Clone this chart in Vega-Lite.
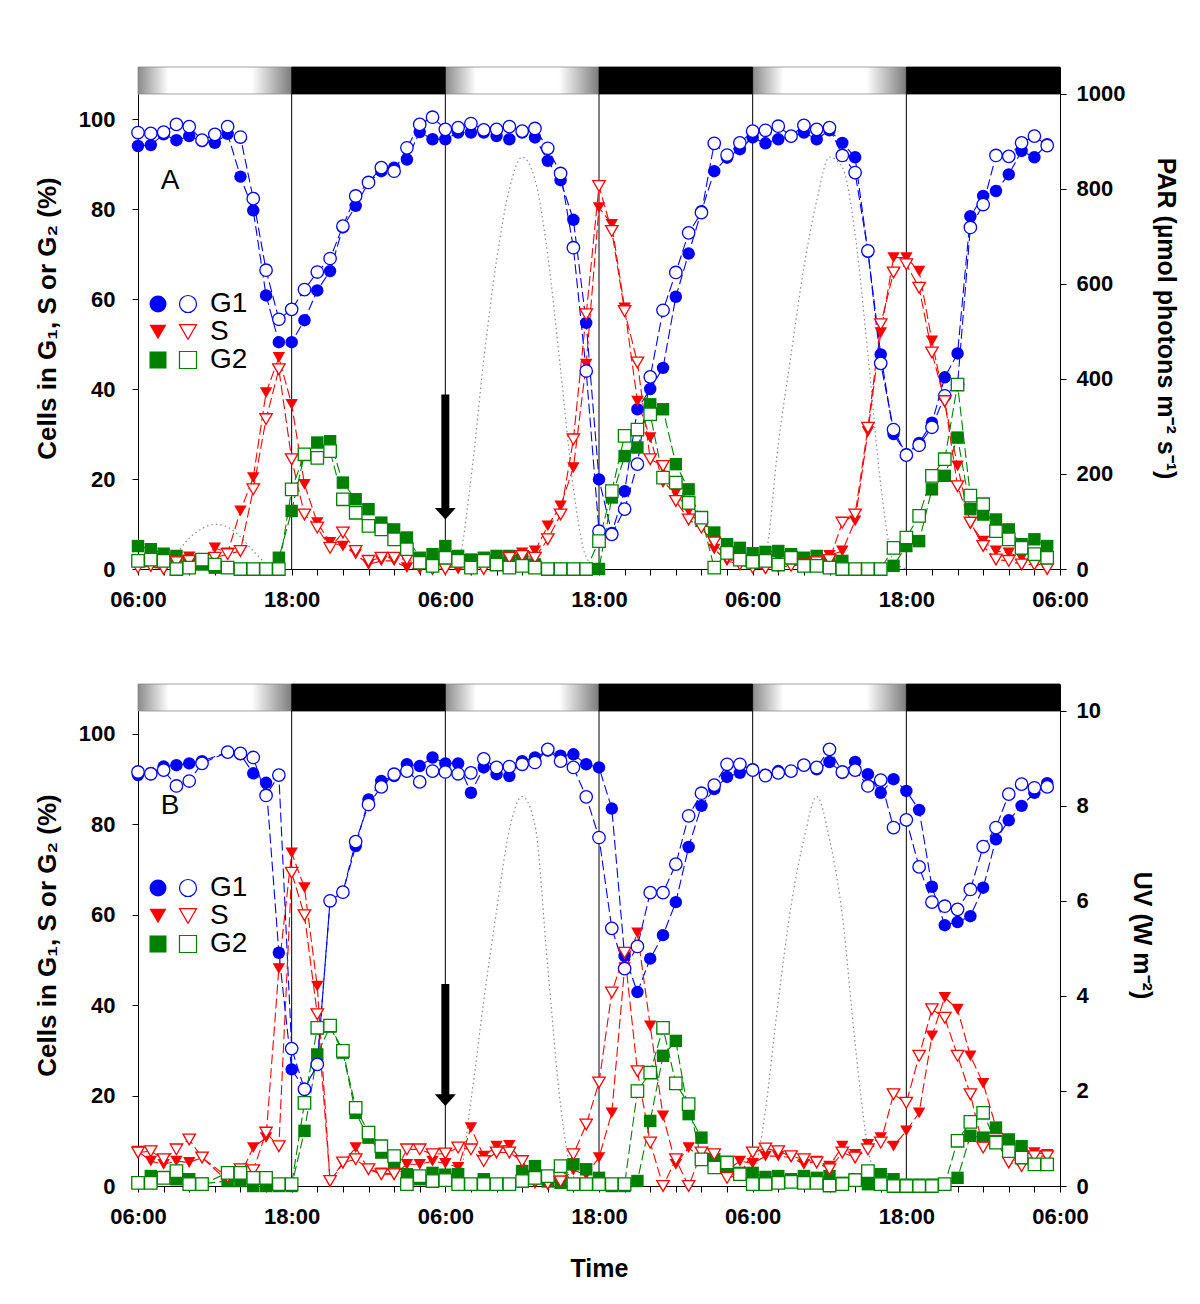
{
"$schema":"https://vega.github.io/schema/vega-lite/v6.json",
"background":"white",
"padding":{"left":34,"top":66,"right":5,"bottom":5},
"config":{"font":"Liberation Sans","view":{"stroke":null},"axis":{"grid":false,"labelFont":"Liberation Sans","labelFontWeight":"bold","labelFontSize":22,"labelColor":"black","titleFont":"Liberation Sans","titleFontWeight":"bold","titleFontSize":26,"titleColor":"black","domain":true,"domainColor":"black","tickColor":"black","tickSize":6},"legend":{"labelFont":"Liberation Sans","labelColor":"black"}},
"datasets":{
"periods":[{"h":0,"h2":12,"kind":"light"},{"h":12,"h2":24,"kind":"dark"},{"h":24,"h2":36,"kind":"light"},{"h":36,"h2":48,"kind":"dark"},{"h":48,"h2":60,"kind":"light"},{"h":60,"h2":72,"kind":"dark"}],
"irr":[
{"p":"A","day":1,"h":1,"val":0},{"p":"A","day":1,"h":2,"val":10},{"p":"A","day":1,"h":3,"val":33},{"p":"A","day":1,"h":4,"val":65},{"p":"A","day":1,"h":5,"val":85},{"p":"A","day":1,"h":6,"val":94},{"p":"A","day":1,"h":7,"val":88},{"p":"A","day":1,"h":8,"val":68},{"p":"A","day":1,"h":9,"val":38},{"p":"A","day":1,"h":10,"val":12},{"p":"A","day":1,"h":11,"val":0},
{"p":"A","day":2,"h":24,"val":0},{"p":"A","day":2,"h":25,"val":17},{"p":"A","day":2,"h":26,"val":190},{"p":"A","day":2,"h":27,"val":440},{"p":"A","day":2,"h":28,"val":650},{"p":"A","day":2,"h":29,"val":800},{"p":"A","day":2,"h":30,"val":867},{"p":"A","day":2,"h":31,"val":820},{"p":"A","day":2,"h":32,"val":660},{"p":"A","day":2,"h":33,"val":420},{"p":"A","day":2,"h":34,"val":170},{"p":"A","day":2,"h":35,"val":25},{"p":"A","day":2,"h":36,"val":0},
{"p":"A","day":3,"h":48,"val":0},{"p":"A","day":3,"h":49,"val":31},{"p":"A","day":3,"h":50,"val":263},{"p":"A","day":3,"h":51,"val":452},{"p":"A","day":3,"h":52,"val":635},{"p":"A","day":3,"h":53,"val":775},{"p":"A","day":3,"h":54,"val":867},{"p":"A","day":3,"h":55,"val":846},{"p":"A","day":3,"h":56,"val":705},{"p":"A","day":3,"h":57,"val":452},{"p":"A","day":3,"h":58,"val":178},{"p":"A","day":3,"h":59,"val":17},{"p":"A","day":3,"h":60,"val":0},
{"p":"B","day":2,"h":24,"val":0},{"p":"B","day":2,"h":25,"val":0.1},{"p":"B","day":2,"h":26,"val":1.8},{"p":"B","day":2,"h":27,"val":3.9},{"p":"B","day":2,"h":28,"val":5.8},{"p":"B","day":2,"h":29,"val":7.5},{"p":"B","day":2,"h":30,"val":8.2},{"p":"B","day":2,"h":31,"val":7.6},{"p":"B","day":2,"h":32,"val":4.6},{"p":"B","day":2,"h":33,"val":1.7},{"p":"B","day":2,"h":34,"val":0.2},{"p":"B","day":2,"h":35,"val":0},
{"p":"B","day":3,"h":48,"val":0},{"p":"B","day":3,"h":49,"val":1.6},{"p":"B","day":3,"h":50,"val":3.9},{"p":"B","day":3,"h":51,"val":5.9},{"p":"B","day":3,"h":52,"val":7.3},{"p":"B","day":3,"h":53,"val":8.2},{"p":"B","day":3,"h":54,"val":7.3},{"p":"B","day":3,"h":55,"val":5.7},{"p":"B","day":3,"h":56,"val":3.0},{"p":"B","day":3,"h":57,"val":0.8},{"p":"B","day":3,"h":58,"val":0}
],
"cells":[
{"p":"A","h":0,"G1":94.0,"G1o":97.0,"S":0.5,"So":0.3,"G2":5.1,"G2o":1.8},
{"p":"A","h":1,"G1":94.2,"G1o":96.8,"S":0.5,"So":0.7,"G2":4.4,"G2o":2.1},
{"p":"A","h":2,"G1":96.6,"G1o":97.1,"S":0,"So":0,"G2":3.4,"G2o":1.8},
{"p":"A","h":3,"G1":95.3,"G1o":98.8,"S":2.5,"So":1.5,"G2":2.9,"G2o":0},
{"p":"A","h":4,"G1":96.2,"G1o":98.3,"S":2.7,"So":1.8,"G2":1.8,"G2o":0.3},
{"p":"A","h":5,"G1":95.1,"G1o":95.3,"S":1.8,"So":2.0,"G2":1.0,"G2o":2.1},
{"p":"A","h":6,"G1":94.7,"G1o":96.6,"S":4.7,"So":2.5,"G2":0.3,"G2o":1.0},
{"p":"A","h":7,"G1":96.7,"G1o":98.3,"S":3.6,"So":3.3,"G2":0.3,"G2o":0.3},
{"p":"A","h":8,"G1":87.2,"G1o":96.0,"S":12.9,"So":4.0,"G2":0,"G2o":0},
{"p":"A","h":9,"G1":79.7,"G1o":82.3,"S":20.3,"So":17.7,"G2":0,"G2o":0},
{"p":"A","h":10,"G1":60.8,"G1o":66.4,"S":39.2,"So":33.3,"G2":0,"G2o":0},
{"p":"A","h":11,"G1":50.4,"G1o":55.5,"S":47.0,"So":44.4,"G2":2.5,"G2o":0},
{"p":"A","h":12,"G1":50.4,"G1o":57.7,"S":36.6,"So":24.4,"G2":12.9,"G2o":17.7},
{"p":"A","h":13,"G1":55.3,"G1o":62.1,"S":18.8,"So":12.1,"G2":25.5,"G2o":25.5},
{"p":"A","h":14,"G1":61.9,"G1o":66.0,"S":10.3,"So":9.2,"G2":28.1,"G2o":24.7},
{"p":"A","h":15,"G1":66.2,"G1o":69.0,"S":5.9,"So":4.7,"G2":28.4,"G2o":26.2},
{"p":"A","h":16,"G1":75.9,"G1o":76.2,"S":5.1,"So":8.1,"G2":19.2,"G2o":15.5},
{"p":"A","h":17,"G1":80.7,"G1o":82.9,"S":3.3,"So":4.0,"G2":15.5,"G2o":12.5},
{"p":"A","h":18,"G1":85.9,"G1o":85.9,"S":1.0,"So":1.8,"G2":13.3,"G2o":9.6},
{"p":"A","h":19,"G1":88.4,"G1o":89.2,"S":1.8,"So":2.5,"G2":10.3,"G2o":8.8},
{"p":"A","h":20,"G1":89.2,"G1o":88.4,"S":1.8,"So":2.5,"G2":8.8,"G2o":6.6},
{"p":"A","h":21,"G1":91.0,"G1o":93.6,"S":0.3,"So":2.1,"G2":7.0,"G2o":4.4},
{"p":"A","h":22,"G1":97.1,"G1o":98.8,"S":0,"So":1.0,"G2":2.5,"G2o":1.4},
{"p":"A","h":23,"G1":95.5,"G1o":100.4,"S":0,"So":0,"G2":3.3,"G2o":0.7},
{"p":"A","h":24,"G1":95.5,"G1o":97.7,"S":0,"So":0,"G2":5.1,"G2o":2.5},
{"p":"A","h":25,"G1":97.0,"G1o":98.1,"S":0,"So":1.0,"G2":2.9,"G2o":1.8},
{"p":"A","h":26,"G1":97.0,"G1o":99.0,"S":0,"So":0,"G2":2.1,"G2o":0.3},
{"p":"A","h":27,"G1":97.0,"G1o":97.6,"S":0,"So":0,"G2":2.5,"G2o":1.8},
{"p":"A","h":28,"G1":96.2,"G1o":97.7,"S":1.5,"So":1.0,"G2":2.9,"G2o":1.0},
{"p":"A","h":29,"G1":95.5,"G1o":98.3,"S":2.5,"So":2.5,"G2":2.9,"G2o":0.3},
{"p":"A","h":30,"G1":97.0,"G1o":97.3,"S":3.6,"So":2.9,"G2":2.1,"G2o":0.7},
{"p":"A","h":31,"G1":95.9,"G1o":97.9,"S":4.0,"So":2.5,"G2":1.0,"G2o":0.3},
{"p":"A","h":32,"G1":90.7,"G1o":93.5,"S":9.6,"So":6.6,"G2":0,"G2o":0},
{"p":"A","h":33,"G1":86.4,"G1o":87.9,"S":14.0,"So":12.1,"G2":0,"G2o":0},
{"p":"A","h":34,"G1":77.6,"G1o":71.4,"S":22.5,"So":28.8,"G2":0,"G2o":0},
{"p":"A","h":35,"G1":54.7,"G1o":44.0,"S":45.5,"So":56.6,"G2":0,"G2o":0},
{"p":"A","h":36,"G1":19.9,"G1o":8.4,"S":80.3,"So":85.1,"G2":0,"G2o":6.2},
{"p":"A","h":37,"G1":8.0,"G1o":7.7,"S":76.6,"So":75.1,"G2":15.9,"G2o":17.3},
{"p":"A","h":38,"G1":17.3,"G1o":13.3,"S":58.0,"So":57.3,"G2":25.1,"G2o":29.6},
{"p":"A","h":39,"G1":35.5,"G1o":23.3,"S":37.3,"So":45.9,"G2":27.0,"G2o":31.0},
{"p":"A","h":40,"G1":40.0,"G1o":42.7,"S":29.2,"So":24.4,"G2":36.6,"G2o":34.4},
{"p":"A","h":41,"G1":44.7,"G1o":57.5,"S":19.2,"So":22.9,"G2":35.5,"G2o":20.3},
{"p":"A","h":42,"G1":60.5,"G1o":65.9,"S":17.0,"So":15.1,"G2":23.3,"G2o":19.2},
{"p":"A","h":43,"G1":70.1,"G1o":74.7,"S":12.9,"So":11.0,"G2":17.7,"G2o":14.7},
{"p":"A","h":44,"G1":79.5,"G1o":79.2,"S":9.6,"So":9.2,"G2":10.7,"G2o":11.4},
{"p":"A","h":45,"G1":88.4,"G1o":94.6,"S":4.4,"So":5.9,"G2":8.1,"G2o":0.3},
{"p":"A","h":46,"G1":91.4,"G1o":92.0,"S":1.8,"So":2.5,"G2":5.5,"G2o":3.6},
{"p":"A","h":47,"G1":93.3,"G1o":94.7,"S":1.0,"So":1.0,"G2":4.7,"G2o":2.1},
{"p":"A","h":48,"G1":95.9,"G1o":97.3,"S":0.3,"So":0.3,"G2":3.5,"G2o":1.6},
{"p":"A","h":49,"G1":94.6,"G1o":97.5,"S":0,"So":0.2,"G2":3.8,"G2o":1.8},
{"p":"A","h":50,"G1":95.5,"G1o":98.4,"S":2.5,"So":0.5,"G2":4.0,"G2o":1.0},
{"p":"A","h":51,"G1":96.2,"G1o":96.2,"S":3.0,"So":0.7,"G2":3.3,"G2o":2.5},
{"p":"A","h":52,"G1":97.0,"G1o":98.6,"S":2.5,"So":1.0,"G2":2.5,"G2o":0.7},
{"p":"A","h":53,"G1":95.5,"G1o":97.7,"S":2.7,"So":1.5,"G2":2.9,"G2o":0.7},
{"p":"A","h":54,"G1":97.5,"G1o":98.1,"S":3.0,"So":2.0,"G2":1.8,"G2o":0.3},
{"p":"A","h":55,"G1":94.7,"G1o":91.9,"S":4.0,"So":10.3,"G2":1.8,"G2o":0},
{"p":"A","h":56,"G1":91.5,"G1o":88.1,"S":10.7,"So":12.1,"G2":0,"G2o":0},
{"p":"A","h":57,"G1":70.5,"G1o":70.7,"S":30.5,"So":31.4,"G2":0,"G2o":0},
{"p":"A","h":58,"G1":47.7,"G1o":45.7,"S":52.5,"So":54.4,"G2":0,"G2o":0},
{"p":"A","h":59,"G1":30.0,"G1o":31.0,"S":69.2,"So":65.9,"G2":0.7,"G2o":4.7},
{"p":"A","h":60,"G1":25.5,"G1o":25.3,"S":69.2,"So":67.7,"G2":5.1,"G2o":7.0},
{"p":"A","h":61,"G1":28.0,"G1o":27.5,"S":66.2,"So":62.5,"G2":6.2,"G2o":11.8},
{"p":"A","h":62,"G1":32.5,"G1o":31.5,"S":50.7,"So":48.1,"G2":17.7,"G2o":20.7},
{"p":"A","h":63,"G1":42.6,"G1o":38.5,"S":37.0,"So":37.3,"G2":20.7,"G2o":24.4},
{"p":"A","h":64,"G1":47.9,"G1o":41.0,"S":22.9,"So":18.4,"G2":29.2,"G2o":41.0},
{"p":"A","h":65,"G1":78.4,"G1o":75.9,"S":10.0,"So":10.3,"G2":13.3,"G2o":16.3},
{"p":"A","h":66,"G1":82.9,"G1o":81.0,"S":6.2,"So":5.1,"G2":12.1,"G2o":14.4},
{"p":"A","h":67,"G1":84.0,"G1o":91.9,"S":4.0,"So":2.1,"G2":11.0,"G2o":8.4},
{"p":"A","h":68,"G1":87.7,"G1o":91.7,"S":3.6,"So":1.8,"G2":8.8,"G2o":6.6},
{"p":"A","h":69,"G1":92.9,"G1o":94.7,"S":2.5,"So":1.0,"G2":5.5,"G2o":4.7},
{"p":"A","h":70,"G1":91.5,"G1o":96.2,"S":1.4,"So":1.0,"G2":6.6,"G2o":3.3},
{"p":"A","h":71,"G1":94.4,"G1o":94.1,"S":0.3,"So":0,"G2":5.1,"G2o":2.5},
{"p":"B","h":0,"G1":90.9,"G1o":91.6,"S":7.7,"So":7.4,"G2":0.7,"G2o":0.7},
{"p":"B","h":1,"G1":91.4,"G1o":91.2,"S":5.5,"So":7.7,"G2":2.2,"G2o":0.7},
{"p":"B","h":2,"G1":92.8,"G1o":92.0,"S":4.8,"So":5.9,"G2":2.0,"G2o":1.8},
{"p":"B","h":3,"G1":93.1,"G1o":88.5,"S":5.5,"So":8.1,"G2":1.5,"G2o":3.3},
{"p":"B","h":4,"G1":93.5,"G1o":89.6,"S":5.2,"So":10.3,"G2":1.5,"G2o":0.4},
{"p":"B","h":5,"G1":94.0,"G1o":93.5,"S":6.3,"So":6.3,"G2":0.5,"G2o":0.4},
{"p":"B","h":7,"G1":96.0,"G1o":96.0,"S":1.1,"So":2.0,"G2":1.1,"G2o":2.9},
{"p":"B","h":8,"G1":95.5,"G1o":95.7,"S":2.5,"So":3.7,"G2":1.1,"G2o":2.9},
{"p":"B","h":9,"G1":91.3,"G1o":94.8,"S":8.5,"So":3.5,"G2":0,"G2o":1.8},
{"p":"B","h":10,"G1":89.2,"G1o":86.4,"S":10.7,"So":11.8,"G2":0,"G2o":1.8},
{"p":"B","h":11,"G1":51.6,"G1o":90.9,"S":48.1,"So":8.8,"G2":0,"G2o":0.4},
{"p":"B","h":12,"G1":25.8,"G1o":30.4,"S":73.7,"So":69.3,"G2":0,"G2o":0.4},
{"p":"B","h":13,"G1":21.5,"G1o":21.4,"S":66.0,"So":59.9,"G2":12.2,"G2o":18.4},
{"p":"B","h":14,"G1":27.0,"G1o":26.9,"S":44.2,"So":38.0,"G2":29.1,"G2o":35.0},
{"p":"B","h":15,"G1":63.1,"G1o":63.1,"S":1.0,"So":1.1,"G2":35.3,"G2o":35.5},
{"p":"B","h":16,"G1":65.0,"G1o":65.0,"S":5.0,"So":5.2,"G2":29.5,"G2o":29.9},
{"p":"B","h":17,"G1":75.2,"G1o":76.2,"S":8.5,"So":5.9,"G2":16.2,"G2o":17.3},
{"p":"B","h":18,"G1":85.5,"G1o":84.4,"S":3.7,"So":3.7,"G2":10.7,"G2o":11.8},
{"p":"B","h":19,"G1":89.6,"G1o":88.3,"S":2.9,"So":2.6,"G2":7.4,"G2o":8.8},
{"p":"B","h":20,"G1":90.7,"G1o":91.1,"S":2.6,"So":2.6,"G2":5.2,"G2o":6.6},
{"p":"B","h":21,"G1":93.3,"G1o":91.8,"S":4.8,"So":8.1,"G2":2.6,"G2o":0.4},
{"p":"B","h":22,"G1":92.9,"G1o":89.4,"S":4.8,"So":8.1,"G2":1.5,"G2o":2.2},
{"p":"B","h":23,"G1":94.8,"G1o":91.8,"S":5.5,"So":7.0,"G2":2.9,"G2o":1.1},
{"p":"B","h":24,"G1":93.5,"G1o":91.6,"S":5.0,"So":7.2,"G2":2.5,"G2o":1.3},
{"p":"B","h":25,"G1":93.5,"G1o":91.2,"S":4.1,"So":8.5,"G2":2.6,"G2o":0.4},
{"p":"B","h":26,"G1":87.0,"G1o":91.4,"S":12.9,"So":8.1,"G2":0.4,"G2o":0.4},
{"p":"B","h":27,"G1":92.6,"G1o":94.5,"S":6.6,"So":5.5,"G2":1.5,"G2o":0.4},
{"p":"B","h":28,"G1":91.1,"G1o":92.6,"S":8.8,"So":7.4,"G2":0.4,"G2o":0.4},
{"p":"B","h":29,"G1":90.7,"G1o":92.8,"S":9.0,"So":7.4,"G2":0.4,"G2o":0.4},
{"p":"B","h":30,"G1":94.0,"G1o":93.3,"S":5.5,"So":5.5,"G2":3.3,"G2o":1.1},
{"p":"B","h":31,"G1":94.8,"G1o":93.7,"S":0.5,"So":1.0,"G2":4.4,"G2o":1.8},
{"p":"B","h":32,"G1":96.3,"G1o":96.6,"S":0.5,"So":0.5,"G2":1.0,"G2o":2.2},
{"p":"B","h":33,"G1":95.2,"G1o":94.0,"S":1.1,"So":1.0,"G2":0.7,"G2o":4.4},
{"p":"B","h":34,"G1":95.5,"G1o":92.6,"S":3.5,"So":7.0,"G2":4.8,"G2o":0.4},
{"p":"B","h":35,"G1":93.3,"G1o":86.1,"S":2.5,"So":13.6,"G2":3.7,"G2o":0.4},
{"p":"B","h":36,"G1":92.6,"G1o":77.1,"S":6.3,"So":22.9,"G2":1.8,"G2o":0.4},
{"p":"B","h":37,"G1":83.5,"G1o":57.0,"S":16.2,"So":42.8,"G2":0,"G2o":0.4},
{"p":"B","h":38,"G1":50.9,"G1o":48.1,"S":48.3,"So":51.6,"G2":0,"G2o":0.4},
{"p":"B","h":39,"G1":42.9,"G1o":53.0,"S":56.0,"So":25.4,"G2":1.1,"G2o":21.0},
{"p":"B","h":40,"G1":50.3,"G1o":64.9,"S":35.4,"So":9.6,"G2":14.4,"G2o":25.1},
{"p":"B","h":41,"G1":55.5,"G1o":64.9,"S":15.5,"So":0,"G2":28.8,"G2o":35.0},
{"p":"B","h":42,"G1":62.8,"G1o":71.2,"S":4.8,"So":5.9,"G2":32.1,"G2o":22.7},
{"p":"B","h":43,"G1":75.0,"G1o":81.9,"S":8.5,"So":0,"G2":15.9,"G2o":18.1},
{"p":"B","h":44,"G1":84.1,"G1o":86.9,"S":5.9,"So":7.4,"G2":10.7,"G2o":5.9},
{"p":"B","h":45,"G1":87.8,"G1o":88.7,"S":5.5,"So":7.0,"G2":5.9,"G2o":4.1},
{"p":"B","h":46,"G1":90.5,"G1o":93.3,"S":3.5,"So":1.8,"G2":4.4,"G2o":5.2},
{"p":"B","h":47,"G1":91.4,"G1o":93.3,"S":5.5,"So":2.5,"G2":2.9,"G2o":2.6},
{"p":"B","h":48,"G1":92.2,"G1o":92.0,"S":5.0,"So":7.4,"G2":2.9,"G2o":0.4},
{"p":"B","h":49,"G1":91.0,"G1o":90.8,"S":6.6,"So":8.3,"G2":2.0,"G2o":0.4},
{"p":"B","h":50,"G1":91.8,"G1o":91.4,"S":6.6,"So":7.7,"G2":2.2,"G2o":0.7},
{"p":"B","h":51,"G1":91.8,"G1o":91.8,"S":6.3,"So":6.6,"G2":1.5,"G2o":0.9},
{"p":"B","h":52,"G1":93.1,"G1o":93.1,"S":4.8,"So":5.9,"G2":2.2,"G2o":0.7},
{"p":"B","h":53,"G1":92.2,"G1o":92.6,"S":5.5,"So":5.2,"G2":1.8,"G2o":0.7},
{"p":"B","h":54,"G1":93.8,"G1o":96.6,"S":4.4,"So":3.7,"G2":2.2,"G2o":0.1},
{"p":"B","h":55,"G1":91.4,"G1o":91.6,"S":8.8,"So":7.4,"G2":0.7,"G2o":0.4},
{"p":"B","h":56,"G1":93.8,"G1o":92.0,"S":7.0,"So":6.3,"G2":1.5,"G2o":1.3},
{"p":"B","h":57,"G1":91.1,"G1o":88.5,"S":9.2,"So":8.1,"G2":0.4,"G2o":3.3},
{"p":"B","h":58,"G1":87.0,"G1o":89.8,"S":10.7,"So":9.6,"G2":2.6,"G2o":0.4},
{"p":"B","h":59,"G1":90.0,"G1o":79.3,"S":8.8,"So":20.3,"G2":1.5,"G2o":0},
{"p":"B","h":60,"G1":87.4,"G1o":81.0,"S":12.2,"So":18.4,"G2":0.3,"G2o":0},
{"p":"B","h":61,"G1":83.2,"G1o":70.6,"S":16.2,"So":28.8,"G2":0.3,"G2o":0},
{"p":"B","h":62,"G1":66.2,"G1o":62.8,"S":33.2,"So":39.1,"G2":0.3,"G2o":0},
{"p":"B","h":63,"G1":57.7,"G1o":61.9,"S":41.7,"So":37.2,"G2":0.3,"G2o":0.4},
{"p":"B","h":64,"G1":58.4,"G1o":61.2,"S":39.1,"So":28.8,"G2":1.8,"G2o":10.0},
{"p":"B","h":65,"G1":59.7,"G1o":65.6,"S":28.8,"So":20.3,"G2":11.1,"G2o":14.2},
{"p":"B","h":66,"G1":66.0,"G1o":75.1,"S":22.7,"So":8.5,"G2":10.7,"G2o":16.2},
{"p":"B","h":67,"G1":76.7,"G1o":79.3,"S":13.0,"So":10.0,"G2":12.9,"G2o":9.6},
{"p":"B","h":68,"G1":80.9,"G1o":86.7,"S":8.0,"So":5.2,"G2":10.3,"G2o":7.7},
{"p":"B","h":69,"G1":84.1,"G1o":88.9,"S":7.0,"So":4.4,"G2":8.8,"G2o":6.3},
{"p":"B","h":70,"G1":87.0,"G1o":88.1,"S":7.4,"So":6.6,"G2":4.8,"G2o":4.8},
{"p":"B","h":71,"G1":89.1,"G1o":88.3,"S":7.0,"So":6.6,"G2":4.8,"G2o":4.8}
]},
"bounds":"flush",
"spacing":115,
"vconcat":[
{
"width":922,"height":502,
"resolve":{"scale":{"y":"independent","color":"independent","stroke":"independent","shape":"independent"},"axis":{"y":"independent","x":"independent"}},
"layer":[
{"data":{"name":"periods"},"transform":[{"filter":"datum.kind=='light'"}],
"mark":{"type":"rect","fill":{"gradient":"linear","x1":0,"y1":0,"x2":1,"y2":0,"stops":[{"offset":0,"color":"#8a8a8a"},{"offset":0.2,"color":"#ffffff"},{"offset":0.74,"color":"#ffffff"},{"offset":1,"color":"#7c7c7c"}]},"stroke":"#8c8c8c","strokeWidth":0.8},
"encoding":{"x":{"field":"h","type":"quantitative","scale":{"domain":[0,72],"nice":false,"zero":false},"axis":null},"x2":{"field":"h2"},"y":{"datum":105.56,"type":"quantitative","scale":{"domain":[0,111.56],"nice":false,"zero":false},"axis":null},"y2":{"datum":111.56}}},
{"data":{"name":"periods"},"transform":[{"filter":"datum.kind=='dark'"}],
"mark":{"type":"rect","fill":"black","stroke":"black","strokeWidth":0.8},
"encoding":{"x":{"field":"h","type":"quantitative","scale":{"domain":[0,72],"nice":false,"zero":false},"axis":null},"x2":{"field":"h2"},"y":{"datum":105.56,"type":"quantitative","scale":{"domain":[0,111.56],"nice":false,"zero":false},"axis":null},"y2":{"datum":111.56}}},
{"data":{"name":"periods"},"transform":[{"filter":"datum.h>0"}],
"mark":{"type":"rule","color":"black","strokeWidth":1},
"encoding":{"x":{"field":"h","type":"quantitative","scale":{"domain":[0,72],"nice":false,"zero":false},"axis":null},"y":{"datum":0,"type":"quantitative","scale":{"domain":[0,111.56],"nice":false,"zero":false},"axis":null},"y2":{"datum":105.56}}},
{"data":{"name":"irr"},"transform":[{"filter":"datum.p=='A'"}],
"mark":{"type":"line","color":"#8a8a8a","strokeDash":[1.5,3],"strokeWidth":1.2,"interpolate":"monotone"},
"encoding":{"x":{"field":"h","type":"quantitative","scale":{"domain":[0,72],"nice":false,"zero":false},"axis":null},"y":{"field":"val","type":"quantitative","scale":{"domain":[0,1056.8],"nice":false,"zero":false},"axis":{"orient":"right","values":[0,200,400,600,800,1000],"format":"d","title":"PAR (µmol photons m⁻² s⁻¹)","titleFontSize":25,"titlePadding":28,"labelPadding":10,"tickSize":6}},"detail":{"field":"day","type":"nominal"}}},
{"data":{"name":"cells"},"transform":[{"filter":"datum.p=='A'"},{"fold":["G1","S","G2"],"as":["Phase","v"]},{"filter":"isValid(datum.v)"}],
"mark":{"type":"line","strokeDash":[10,4],"strokeWidth":1.1},
"encoding":{"x":{"field":"h","type":"quantitative","scale":{"domain":[0,72],"nice":false,"zero":false},"axis":null},"y":{"field":"v","type":"quantitative","scale":{"domain":[0,111.56],"nice":false,"zero":false},"axis":null},"color":{"field":"Phase","type":"nominal","scale":{"domain":["G1","S","G2"],"range":["#0000ff","#ff0000","#008000"]},"legend":null}}},
{"data":{"name":"cells"},"transform":[{"filter":"datum.p=='A'"},{"fold":["G1o","So","G2o"],"as":["PhaseOpen","v"]},{"filter":"isValid(datum.v)"}],
"mark":{"type":"line","strokeDash":[10,4],"strokeWidth":1.1},
"encoding":{"x":{"field":"h","type":"quantitative","scale":{"domain":[0,72],"nice":false,"zero":false},"axis":null},"y":{"field":"v","type":"quantitative","scale":{"domain":[0,111.56],"nice":false,"zero":false},"axis":null},"stroke":{"field":"PhaseOpen","type":"nominal","scale":{"domain":["G1o","So","G2o"],"range":["#0000ff","#ff0000","#008000"]},"legend":null}}},
{"data":{"name":"cells"},"transform":[{"filter":"datum.p=='A'"},{"fold":["G1","S","G2"],"as":["Phase","v"]},{"filter":"isValid(datum.v)"}],
"mark":{"type":"point","filled":true,"opacity":1,"size":155},
"encoding":{
"x":{"field":"h","type":"quantitative","scale":{"domain":[0,72],"nice":false,"zero":false},"axis":{"orient":"bottom","values":[0,2,4,6,8,10,12,14,16,18,20,22,24,26,28,30,32,34,36,38,40,42,44,46,48,50,52,54,56,58,60,62,64,66,68,70,72],"labelExpr":"datum.value % 24 == 0 ? '06:00' : (datum.value % 12 == 0 ? '18:00' : '')","title":null,"labelFlush":false,"labelOverlap":false,"labelPadding":14,"tickSize":6}},
"y":{"field":"v","type":"quantitative","scale":{"domain":[0,111.56],"nice":false,"zero":false},"axis":{"orient":"left","values":[0,20,40,60,80,100],"title":"Cells in G₁, S or G₂ (%)","titlePadding":18,"labelPadding":17,"tickSize":6}},
"color":{"field":"Phase","type":"nominal","scale":{"domain":["G1","S","G2"],"range":["#0000ff","#ff0000","#008000"]},"legend":{"orient":"none","legendX":6,"legendY":223,"title":null,"labelExpr":"' '","symbolSize":290,"labelFontSize":28,"rowPadding":0,"padding":0,"labelOffset":0}},
"shape":{"field":"Phase","type":"nominal","scale":{"domain":["G1","S","G2"],"range":["circle","triangle-down","square"]},"legend":{"orient":"none","legendX":6,"legendY":223,"title":null,"labelExpr":"' '","symbolSize":290,"labelFontSize":28,"rowPadding":0,"padding":0,"labelOffset":0}}}},
{"data":{"name":"cells"},"transform":[{"filter":"datum.p=='A'"},{"fold":["G1o","So","G2o"],"as":["PhaseOpen","v"]},{"filter":"isValid(datum.v)"}],
"mark":{"type":"point","filled":false,"fill":"white","strokeWidth":1.3,"opacity":1,"size":155},
"encoding":{
"x":{"field":"h","type":"quantitative","scale":{"domain":[0,72],"nice":false,"zero":false},"axis":null},
"y":{"field":"v","type":"quantitative","scale":{"domain":[0,111.56],"nice":false,"zero":false},"axis":null},
"color":{"field":"PhaseOpen","type":"nominal","scale":{"domain":["G1o","So","G2o"],"range":["#0000ff","#ff0000","#008000"]},"legend":{"orient":"none","legendX":36,"legendY":223,"title":null,"labelExpr":"replace(datum.label,'o','')","symbolSize":290,"labelFontSize":28,"rowPadding":0,"padding":0,"labelOffset":8,"symbolStrokeWidth":1.2,"symbolFillColor":"white"}},
"shape":{"field":"PhaseOpen","type":"nominal","scale":{"domain":["G1o","So","G2o"],"range":["circle","triangle-down","square"]},"legend":{"orient":"none","legendX":36,"legendY":223,"title":null,"labelExpr":"replace(datum.label,'o','')","symbolSize":290,"labelFontSize":28,"rowPadding":0,"padding":0,"labelOffset":8,"symbolStrokeWidth":1.2,"symbolFillColor":"white"}}}},
{"data":{"values":[{}]},"mark":{"type":"rule","color":"black","strokeWidth":8,"strokeCap":"butt"},
"encoding":{"x":{"datum":24,"type":"quantitative","scale":{"domain":[0,72],"nice":false,"zero":false},"axis":null},"y":{"datum":38.8,"type":"quantitative","scale":{"domain":[0,111.56],"nice":false,"zero":false},"axis":null},"y2":{"datum":13.4}}},
{"data":{"values":[{}]},"mark":{"type":"point","shape":"M-1,-0.55L1,-0.55L0,0.55Z","filled":true,"color":"black","size":441,"opacity":1},
"encoding":{"x":{"datum":24,"type":"quantitative","scale":{"domain":[0,72],"nice":false,"zero":false},"axis":null},"y":{"datum":12.3,"type":"quantitative","scale":{"domain":[0,111.56],"nice":false,"zero":false},"axis":null}}},
{"data":{"values":[{}]},"mark":{"type":"text","text":"A","fontSize":28,"font":"Liberation Sans","color":"black","align":"center","baseline":"middle"},
"encoding":{"x":{"datum":2.5,"type":"quantitative","scale":{"domain":[0,72],"nice":false,"zero":false},"axis":null},"y":{"datum":86.2,"type":"quantitative","scale":{"domain":[0,111.56],"nice":false,"zero":false},"axis":null}}}
]
},
{
"width":922,"height":502,
"resolve":{"scale":{"y":"independent","color":"independent","stroke":"independent","shape":"independent"},"axis":{"y":"independent","x":"independent"}},
"layer":[
{"data":{"name":"periods"},"transform":[{"filter":"datum.kind=='light'"}],
"mark":{"type":"rect","fill":{"gradient":"linear","x1":0,"y1":0,"x2":1,"y2":0,"stops":[{"offset":0,"color":"#8a8a8a"},{"offset":0.2,"color":"#ffffff"},{"offset":0.74,"color":"#ffffff"},{"offset":1,"color":"#7c7c7c"}]},"stroke":"#8c8c8c","strokeWidth":0.8},
"encoding":{"x":{"field":"h","type":"quantitative","scale":{"domain":[0,72],"nice":false,"zero":false},"axis":null},"x2":{"field":"h2"},"y":{"datum":105.09,"type":"quantitative","scale":{"domain":[0,111.06],"nice":false,"zero":false},"axis":null},"y2":{"datum":111.06}}},
{"data":{"name":"periods"},"transform":[{"filter":"datum.kind=='dark'"}],
"mark":{"type":"rect","fill":"black","stroke":"black","strokeWidth":0.8},
"encoding":{"x":{"field":"h","type":"quantitative","scale":{"domain":[0,72],"nice":false,"zero":false},"axis":null},"x2":{"field":"h2"},"y":{"datum":105.09,"type":"quantitative","scale":{"domain":[0,111.06],"nice":false,"zero":false},"axis":null},"y2":{"datum":111.06}}},
{"data":{"name":"periods"},"transform":[{"filter":"datum.h>0"}],
"mark":{"type":"rule","color":"black","strokeWidth":1},
"encoding":{"x":{"field":"h","type":"quantitative","scale":{"domain":[0,72],"nice":false,"zero":false},"axis":null},"y":{"datum":0,"type":"quantitative","scale":{"domain":[0,111.06],"nice":false,"zero":false},"axis":null},"y2":{"datum":105.09}}},
{"data":{"name":"irr"},"transform":[{"filter":"datum.p=='B'"}],
"mark":{"type":"line","color":"#8a8a8a","strokeDash":[1.5,3],"strokeWidth":1.2,"interpolate":"monotone"},
"encoding":{"x":{"field":"h","type":"quantitative","scale":{"domain":[0,72],"nice":false,"zero":false},"axis":null},"y":{"field":"val","type":"quantitative","scale":{"domain":[0,10.568],"nice":false,"zero":false},"axis":{"orient":"right","values":[0,2,4,6,8,10],"format":"d","title":"UV (W m⁻²)","titleFontSize":25,"titlePadding":28,"labelPadding":10,"tickSize":6}},"detail":{"field":"day","type":"nominal"}}},
{"data":{"name":"cells"},"transform":[{"filter":"datum.p=='B'"},{"fold":["G1","S","G2"],"as":["Phase","v"]},{"filter":"isValid(datum.v)"}],
"mark":{"type":"line","strokeDash":[10,4],"strokeWidth":1.1},
"encoding":{"x":{"field":"h","type":"quantitative","scale":{"domain":[0,72],"nice":false,"zero":false},"axis":null},"y":{"field":"v","type":"quantitative","scale":{"domain":[0,111.06],"nice":false,"zero":false},"axis":null},"color":{"field":"Phase","type":"nominal","scale":{"domain":["G1","S","G2"],"range":["#0000ff","#ff0000","#008000"]},"legend":null}}},
{"data":{"name":"cells"},"transform":[{"filter":"datum.p=='B'"},{"fold":["G1o","So","G2o"],"as":["PhaseOpen","v"]},{"filter":"isValid(datum.v)"}],
"mark":{"type":"line","strokeDash":[10,4],"strokeWidth":1.1},
"encoding":{"x":{"field":"h","type":"quantitative","scale":{"domain":[0,72],"nice":false,"zero":false},"axis":null},"y":{"field":"v","type":"quantitative","scale":{"domain":[0,111.06],"nice":false,"zero":false},"axis":null},"stroke":{"field":"PhaseOpen","type":"nominal","scale":{"domain":["G1o","So","G2o"],"range":["#0000ff","#ff0000","#008000"]},"legend":null}}},
{"data":{"name":"cells"},"transform":[{"filter":"datum.p=='B'"},{"fold":["G1","S","G2"],"as":["Phase","v"]},{"filter":"isValid(datum.v)"}],
"mark":{"type":"point","filled":true,"opacity":1,"size":155},
"encoding":{
"x":{"field":"h","type":"quantitative","scale":{"domain":[0,72],"nice":false,"zero":false},"axis":{"orient":"bottom","values":[0,2,4,6,8,10,12,14,16,18,20,22,24,26,28,30,32,34,36,38,40,42,44,46,48,50,52,54,56,58,60,62,64,66,68,70,72],"labelExpr":"datum.value % 24 == 0 ? '06:00' : (datum.value % 12 == 0 ? '18:00' : '')","title":"Time","titleFontSize":25,"titlePadding":29,"labelFlush":false,"labelOverlap":false,"labelPadding":14,"tickSize":6}},
"y":{"field":"v","type":"quantitative","scale":{"domain":[0,111.06],"nice":false,"zero":false},"axis":{"orient":"left","values":[0,20,40,60,80,100],"title":"Cells in G₁, S or G₂ (%)","titlePadding":18,"labelPadding":17,"tickSize":6}},
"color":{"field":"Phase","type":"nominal","scale":{"domain":["G1","S","G2"],"range":["#0000ff","#ff0000","#008000"]},"legend":{"orient":"none","legendX":6,"legendY":190,"title":null,"labelExpr":"' '","symbolSize":290,"labelFontSize":28,"rowPadding":0,"padding":0,"labelOffset":0}},
"shape":{"field":"Phase","type":"nominal","scale":{"domain":["G1","S","G2"],"range":["circle","triangle-down","square"]},"legend":{"orient":"none","legendX":6,"legendY":190,"title":null,"labelExpr":"' '","symbolSize":290,"labelFontSize":28,"rowPadding":0,"padding":0,"labelOffset":0}}}},
{"data":{"name":"cells"},"transform":[{"filter":"datum.p=='B'"},{"fold":["G1o","So","G2o"],"as":["PhaseOpen","v"]},{"filter":"isValid(datum.v)"}],
"mark":{"type":"point","filled":false,"fill":"white","strokeWidth":1.3,"opacity":1,"size":155},
"encoding":{
"x":{"field":"h","type":"quantitative","scale":{"domain":[0,72],"nice":false,"zero":false},"axis":null},
"y":{"field":"v","type":"quantitative","scale":{"domain":[0,111.06],"nice":false,"zero":false},"axis":null},
"color":{"field":"PhaseOpen","type":"nominal","scale":{"domain":["G1o","So","G2o"],"range":["#0000ff","#ff0000","#008000"]},"legend":{"orient":"none","legendX":36,"legendY":190,"title":null,"labelExpr":"replace(datum.label,'o','')","symbolSize":290,"labelFontSize":28,"rowPadding":0,"padding":0,"labelOffset":8,"symbolStrokeWidth":1.2,"symbolFillColor":"white"}},
"shape":{"field":"PhaseOpen","type":"nominal","scale":{"domain":["G1o","So","G2o"],"range":["circle","triangle-down","square"]},"legend":{"orient":"none","legendX":36,"legendY":190,"title":null,"labelExpr":"replace(datum.label,'o','')","symbolSize":290,"labelFontSize":28,"rowPadding":0,"padding":0,"labelOffset":8,"symbolStrokeWidth":1.2,"symbolFillColor":"white"}}}},
{"data":{"values":[{}]},"mark":{"type":"rule","color":"black","strokeWidth":8,"strokeCap":"butt"},
"encoding":{"x":{"datum":24,"type":"quantitative","scale":{"domain":[0,72],"nice":false,"zero":false},"axis":null},"y":{"datum":44.7,"type":"quantitative","scale":{"domain":[0,111.06],"nice":false,"zero":false},"axis":null},"y2":{"datum":20.1}}},
{"data":{"values":[{}]},"mark":{"type":"point","shape":"M-1,-0.55L1,-0.55L0,0.55Z","filled":true,"color":"black","size":441,"opacity":1},
"encoding":{"x":{"datum":24,"type":"quantitative","scale":{"domain":[0,72],"nice":false,"zero":false},"axis":null},"y":{"datum":19.0,"type":"quantitative","scale":{"domain":[0,111.06],"nice":false,"zero":false},"axis":null}}},
{"data":{"values":[{}]},"mark":{"type":"text","text":"B","fontSize":28,"font":"Liberation Sans","color":"black","align":"center","baseline":"middle"},
"encoding":{"x":{"datum":2.5,"type":"quantitative","scale":{"domain":[0,72],"nice":false,"zero":false},"axis":null},"y":{"datum":84.1,"type":"quantitative","scale":{"domain":[0,111.06],"nice":false,"zero":false},"axis":null}}}
]
}
]
}
